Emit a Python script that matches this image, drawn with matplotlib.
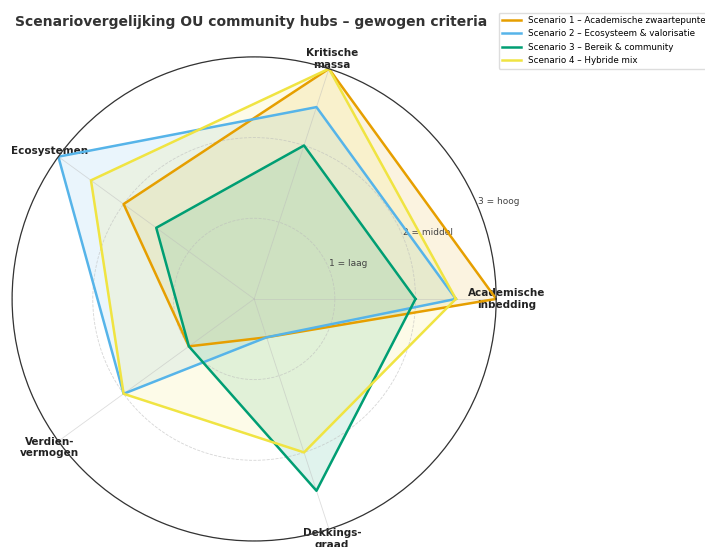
import numpy as np
import matplotlib
matplotlib.use('Agg')
import matplotlib.pyplot as plt

# criteria en scores per scenario (1 = laag, 2 = middel, 3 = hoog)
criteria = ['Academische\ninbedding', 'Kritische\nmassa', 'Ecosystemen',
            'Verdien-\nvermogen', 'Dekkings-\ngraad']
scenarios = ['Scenario 1 – Academische zwaartepunten',
             'Scenario 2 – Ecosysteem & valorisatie',
             'Scenario 3 – Bereik & community',
             'Scenario 4 – Hybride mix']
scenario1 = [3, 3, 2, 1, 0.5]
scenario2 = [2.5, 2.5, 3, 2, 0.5]
scenario3 = [2, 2, 1.5, 1, 2.5]
scenario4 = [2.5, 3, 2.5, 2, 2]
r_ticks = [1, 2, 3]
r_labels = ['1 = laag', '2 = middel', '3 = hoog']

colors = ['#E69F00', '#56B4E9', '#009E73', '#F0E442']

n = len(criteria)
angles = np.linspace(0, 2 * np.pi, n, endpoint=False).tolist()
angles += angles[:1]

fig = plt.figure(figsize=(7.05, 5.47), dpi=100)
ax = fig.add_axes([0.017, 0.011, 0.687, 0.885], polar=True)

for name, vals, col in zip(scenarios, [scenario1, scenario2, scenario3, scenario4], colors):
    v = list(vals) + vals[:1]
    ax.plot(angles, v, color=col, linewidth=1.8, label=name)
    ax.fill(angles, v, color=col, alpha=0.12)

ax.set_ylim(0, 3)
ax.set_yticks(r_ticks)
ax.set_yticklabels(r_labels, fontsize=6.5, color='#444444')
ax.set_rlabel_position(22.5)
ax.set_xticks(angles[:-1])
ax.set_xticklabels(criteria, fontsize=7.5, fontweight='bold', color='#222222')
ax.tick_params(axis='x', pad=-3)
ax.grid(color='#bbbbbb', linestyle='--', linewidth=0.6, alpha=0.6)
ax.xaxis.grid(linestyle='-', alpha=0.5)
ax.spines['polar'].set_color('#333333')
ax.spines['polar'].set_linewidth(0.9)

fig.text(0.021, 0.96, 'Scenariovergelijking OU community hubs – gewogen criteria',
         fontsize=10, fontweight='bold', color='#333333', ha='left', va='center')

fig.legend(loc='upper left', bbox_to_anchor=(0.701, 0.985), fontsize=6.3,
           frameon=True, framealpha=1, edgecolor='#dddddd', handlelength=2.2)

fig.savefig('out.png', dpi=100)
